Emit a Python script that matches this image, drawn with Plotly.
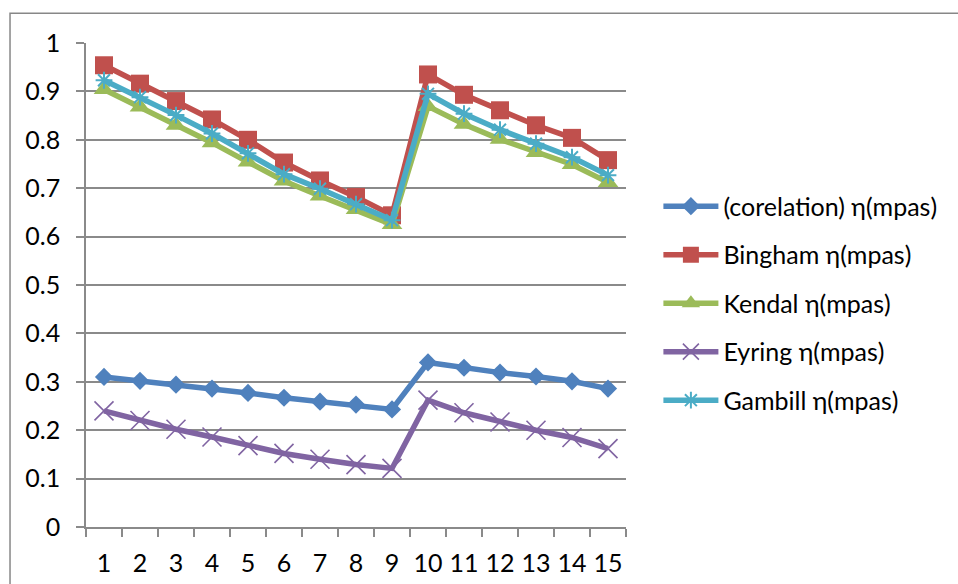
import plotly.graph_objects as go

categories = [str(i) for i in range(1, 16)]
corelation = [0.310, 0.302, 0.294, 0.286, 0.277, 0.267, 0.259, 0.253, 0.243,
              0.340, 0.329, 0.319, 0.311, 0.301, 0.286]
bingham = [0.954, 0.916, 0.880, 0.842, 0.800, 0.753, 0.716, 0.682, 0.644,
           0.935, 0.893, 0.861, 0.830, 0.804, 0.758]
kendal = [0.904, 0.868, 0.830, 0.794, 0.754, 0.715, 0.684, 0.656, 0.625,
          0.869, 0.832, 0.801, 0.774, 0.749, 0.712]
eyring = [0.240, 0.220, 0.202, 0.186, 0.168, 0.152, 0.140, 0.129, 0.121,
          0.262, 0.236, 0.217, 0.200, 0.185, 0.162]
gambill = [0.923, 0.888, 0.851, 0.813, 0.772, 0.729, 0.699, 0.667, 0.634,
           0.895, 0.854, 0.821, 0.792, 0.764, 0.727]
y_ticks = [0, 0.1, 0.2, 0.3, 0.4, 0.5, 0.6, 0.7, 0.8, 0.9, 1]
y_tick_text = ["0", "0.1", "0.2", "0.3", "0.4", "0.5", "0.6", "0.7", "0.8", "0.9", "1"]

series = [
    ("(corelation) η(mpas)", corelation, "#4F81BD", dict(symbol="diamond", size=14)),
    ("Bingham η(mpas)", bingham, "#C0504D", dict(symbol="square", size=18)),
    ("Kendal η(mpas)", kendal, "#9BBB59", dict(symbol="triangle-up", size=18)),
    ("Eyring η(mpas)", eyring, "#8064A2", dict(symbol="x-thin-open", size=19,
                                                 line=dict(width=1.6, color="#8064A2"))),
    ("Gambill η(mpas)", gambill, "#4BACC6", dict(symbol="asterisk-open", size=14,
                                                   line=dict(width=2, color="#4BACC6"))),
]

FONT = "Lato"
FS = 25
fig = go.Figure()
for i, (name, vals, color, mk) in enumerate(series):
    fig.add_trace(go.Scatter(
        x=categories, y=vals, name=name, mode="lines+markers",
        line=dict(color=color, width=5.5),
        marker=dict(color=color, **mk),
        legendgroup=f"g{i}",
    ))

grid = "#8a8a8a"
fig.update_layout(
    width=958, height=584,
    margin=dict(l=86, r=332, t=43, b=57, autoexpand=False),
    paper_bgcolor="white", plot_bgcolor="white",
    font=dict(family=FONT, size=FS, color="black"),
    showlegend=True,
    legend=dict(x=1.06, y=0.462, xanchor="left", yanchor="middle",
                itemwidth=55,
                tracegroupgap=13, font=dict(family=FONT, size=FS, color="black"),
                bgcolor="rgba(0,0,0,0)"),
    xaxis=dict(type="category", tickson="boundaries", ticks="outside", ticklen=8,
               tickcolor=grid, tickwidth=1.5, showline=True, linecolor=grid, linewidth=1.5,
               showgrid=False, ticklabelstandoff=13, tickangle=0, range=[-0.5, 14.5],
               automargin=False),
    yaxis=dict(range=[0, 1], tickmode="array", tickvals=y_ticks, ticktext=y_tick_text,
               ticks="outside", ticklen=8, tickcolor=grid, tickwidth=1.5, showline=True,
               linecolor=grid, linewidth=1.5, showgrid=True, gridcolor=grid,
               gridwidth=1.5, zeroline=False, ticklabelstandoff=11, automargin=False),
    shapes=[dict(type="rect", xref="paper", yref="paper",
                 x0=-0.1407, x1=1.7, y0=-0.3, y1=1.0614,
                 line=dict(color="#878787", width=1.5), layer="above")],
)

fig.write_html(
    "out.html",
    config={"displayModeBar": False},
    post_script="document.body.style.margin='0';document.body.style.overflow='hidden';",
)
